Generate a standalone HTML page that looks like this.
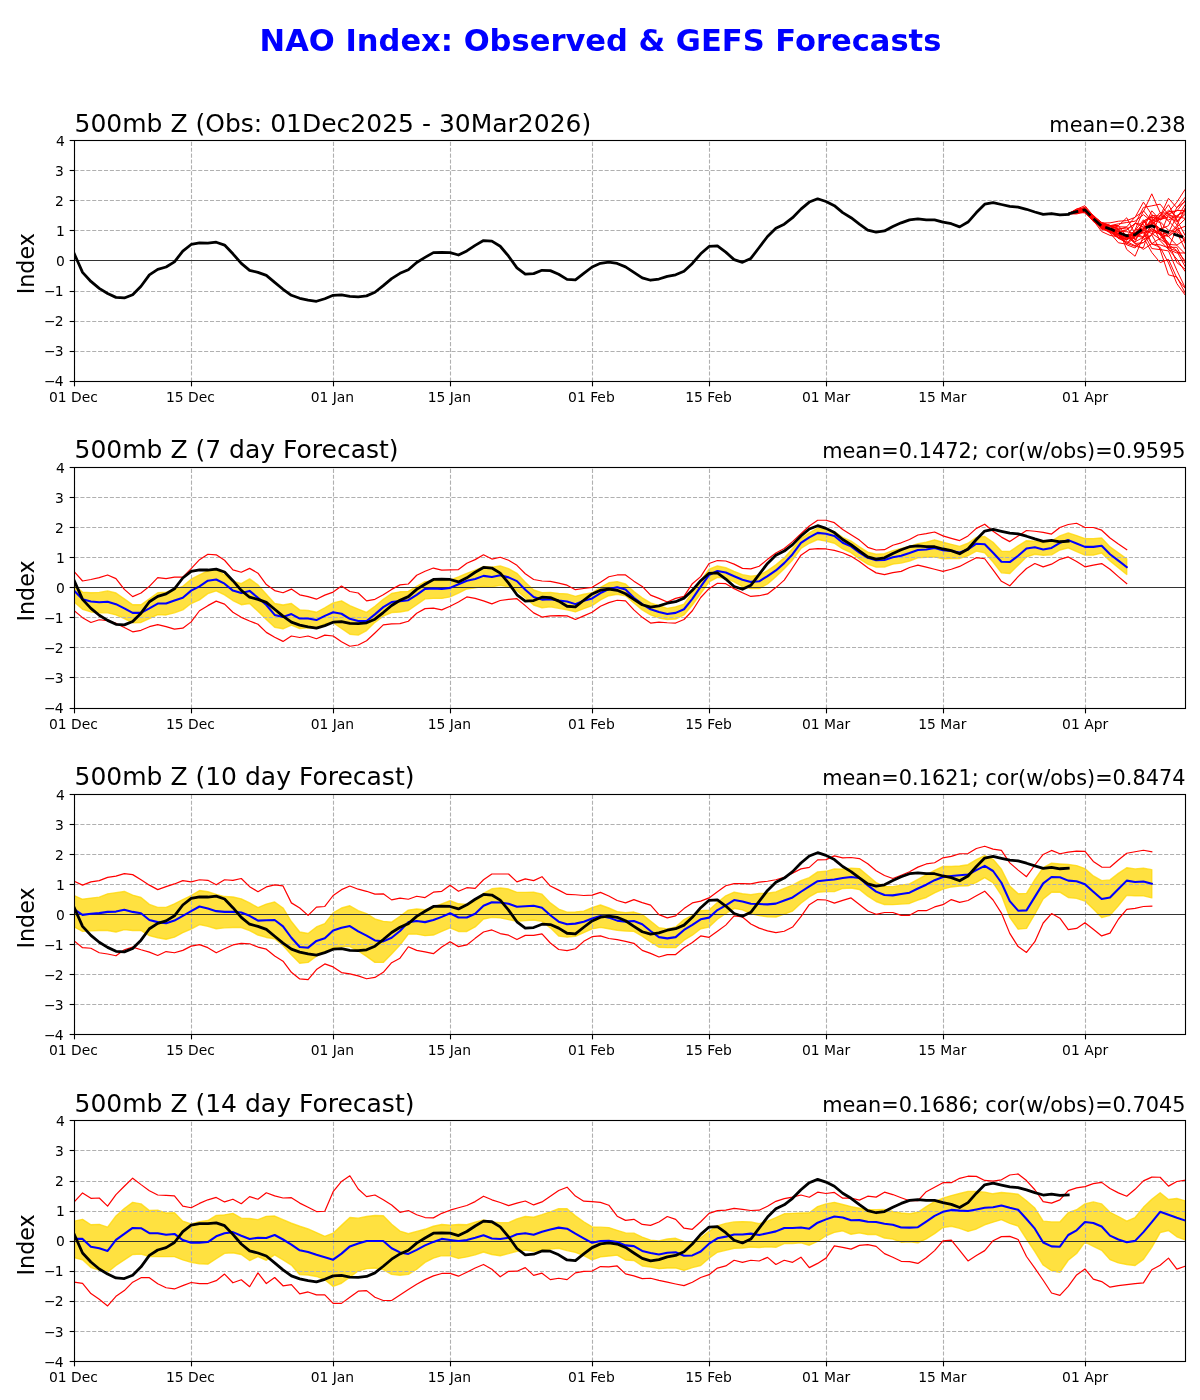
<!DOCTYPE html>
<html><head><meta charset="utf-8"><title>NAO Index: Observed &amp; GEFS Forecasts</title>
<style>html,body{margin:0;padding:0;background:#fff;overflow:hidden}svg{display:block;will-change:transform}</style>
</head><body>
<svg width="1200" height="1400" viewBox="0 0 1200 1400">
<rect x="0" y="0" width="1200" height="1400" fill="#ffffff"/>
<text x="600.5" y="50.8" text-anchor="middle" font-family="DejaVu Sans, Liberation Sans, sans-serif" font-weight="bold" font-size="30.56" fill="#0000ff">NAO Index: Observed &amp; GEFS Forecasts</text>
<g>
<clipPath id="c0"><rect x="74.5" y="140.5" width="1111.0" height="241.0"/></clipPath>
<g clip-path="url(#c0)"><g stroke="#b0b0b0" stroke-width="1.11" stroke-dasharray="4.11 1.78" fill="none"><line x1="74.5" y1="381.5" x2="74.5" y2="140.5"/><line x1="191.5" y1="381.5" x2="191.5" y2="140.5"/><line x1="333.5" y1="381.5" x2="333.5" y2="140.5"/><line x1="450.5" y1="381.5" x2="450.5" y2="140.5"/><line x1="592.5" y1="381.5" x2="592.5" y2="140.5"/><line x1="709.5" y1="381.5" x2="709.5" y2="140.5"/><line x1="826.5" y1="381.5" x2="826.5" y2="140.5"/><line x1="943.5" y1="381.5" x2="943.5" y2="140.5"/><line x1="1085.5" y1="381.5" x2="1085.5" y2="140.5"/><line x1="74.5" y1="381.5" x2="1185.5" y2="381.5"/><line x1="74.5" y1="351.5" x2="1185.5" y2="351.5"/><line x1="74.5" y1="321.5" x2="1185.5" y2="321.5"/><line x1="74.5" y1="291.5" x2="1185.5" y2="291.5"/><line x1="74.5" y1="260.5" x2="1185.5" y2="260.5"/><line x1="74.5" y1="230.5" x2="1185.5" y2="230.5"/><line x1="74.5" y1="200.5" x2="1185.5" y2="200.5"/><line x1="74.5" y1="170.5" x2="1185.5" y2="170.5"/><line x1="74.5" y1="140.5" x2="1185.5" y2="140.5"/></g><line x1="74.5" y1="260.5" x2="1185.5" y2="260.5" stroke="#333" stroke-width="1.1"/><polyline points="1068.25,213.81 1076.61,213.48 1084.96,211.34 1093.31,219.97 1101.67,229.41 1110.02,231.63 1118.37,235.57 1126.73,237.01 1135.08,232.17 1143.43,232.65 1151.79,248.53 1160.14,249.64 1168.49,274.83 1176.85,276.99 1185.2,293.07" fill="none" stroke="#ff0000" stroke-width="1.0" stroke-linejoin="round"/><polyline points="1068.25,213.81 1076.61,211.55 1084.96,208.64 1093.31,218.8 1101.67,225.47 1110.02,229.17 1118.37,233.56 1126.73,235.09 1135.08,233.29 1143.43,222.97 1151.79,216.66 1160.14,234.82 1168.49,247.14 1176.85,247.38 1185.2,263.41" fill="none" stroke="#ff0000" stroke-width="1.0" stroke-linejoin="round"/><polyline points="1068.25,213.81 1076.61,212.75 1084.96,210.44 1093.31,219.97 1101.67,228.72 1110.02,230.85 1118.37,235.42 1126.73,237.31 1135.08,234.01 1143.43,230.73 1151.79,243.93 1160.14,247.26 1168.49,262.92 1176.85,283.61 1185.2,295.09" fill="none" stroke="#ff0000" stroke-width="1.0" stroke-linejoin="round"/><polyline points="1068.25,213.81 1076.61,211.67 1084.96,209.24 1093.31,218.71 1101.67,226.1 1110.02,229.11 1118.37,233.95 1126.73,239.45 1135.08,229.74 1143.43,229.41 1151.79,223.76 1160.14,240.65 1168.49,249.34 1176.85,259.05 1185.2,271.61" fill="none" stroke="#ff0000" stroke-width="1.0" stroke-linejoin="round"/><polyline points="1068.25,213.81 1076.61,212.03 1084.96,209.51 1093.31,217.44 1101.67,223.88 1110.02,228.78 1118.37,231.6 1126.73,229.98 1135.08,223.4 1143.43,224.36 1151.79,243.99 1160.14,244.83 1168.49,247.77 1176.85,251.2 1185.2,266.74" fill="none" stroke="#ff0000" stroke-width="1.0" stroke-linejoin="round"/><polyline points="1068.25,213.81 1076.61,212.15 1084.96,210.44 1093.31,219.85 1101.67,227.66 1110.02,230.64 1118.37,233.17 1126.73,235.57 1135.08,235.6 1143.43,237.52 1151.79,228.78 1160.14,234.1 1168.49,242.9 1176.85,262.59 1185.2,269.18" fill="none" stroke="#ff0000" stroke-width="1.0" stroke-linejoin="round"/><polyline points="1068.25,213.81 1076.61,210.53 1084.96,208.22 1093.31,218.2 1101.67,226.37 1110.02,231.54 1118.37,237.94 1126.73,234.73 1135.08,241.76 1143.43,237.22 1151.79,252.43 1160.14,262.59 1168.49,259.38 1176.85,277.95 1185.2,288.45" fill="none" stroke="#ff0000" stroke-width="1.0" stroke-linejoin="round"/><polyline points="1068.25,213.81 1076.61,211.31 1084.96,209.69 1093.31,218.71 1101.67,226.7 1110.02,230.13 1118.37,238.31 1126.73,241.67 1135.08,245.67 1143.43,242.42 1151.79,234.97 1160.14,249.52 1168.49,250.93 1176.85,270.38 1185.2,287.6" fill="none" stroke="#ff0000" stroke-width="1.0" stroke-linejoin="round"/><polyline points="1068.25,213.81 1076.61,212.3 1084.96,210.17 1093.31,219.04 1101.67,227.81 1110.02,230.19 1118.37,234.58 1126.73,237.76 1135.08,238.64 1143.43,230.22 1151.79,233.47 1160.14,239.15 1168.49,244.62 1176.85,250.54 1185.2,260.97" fill="none" stroke="#ff0000" stroke-width="1.0" stroke-linejoin="round"/><polyline points="1068.25,213.81 1076.61,212.54 1084.96,211.01 1093.31,217.8 1101.67,225.26 1110.02,228.66 1118.37,234.55 1126.73,239.93 1135.08,232.5 1143.43,227.45 1151.79,223.64 1160.14,219.16 1168.49,212.27 1176.85,202.17 1185.2,189.22" fill="none" stroke="#ff0000" stroke-width="1.0" stroke-linejoin="round"/><polyline points="1068.25,213.81 1076.61,209.36 1084.96,207.85 1093.31,215.25 1101.67,223.06 1110.02,222.85 1118.37,221.23 1126.73,220.6 1135.08,217.35 1143.43,202.11 1151.79,214.71 1160.14,219.73 1168.49,216.81 1176.85,221.8 1185.2,214.23" fill="none" stroke="#ff0000" stroke-width="1.0" stroke-linejoin="round"/><polyline points="1068.25,213.81 1076.61,211.31 1084.96,209.72 1093.31,219.94 1101.67,227.39 1110.02,230.76 1118.37,231.45 1126.73,231.72 1135.08,233.41 1143.43,237.04 1151.79,224.6 1160.14,228.81 1168.49,236.41 1176.85,227.06 1185.2,218.95" fill="none" stroke="#ff0000" stroke-width="1.0" stroke-linejoin="round"/><polyline points="1068.25,213.81 1076.61,213.96 1084.96,211.94 1093.31,218.53 1101.67,226.73 1110.02,232.17 1118.37,238.22 1126.73,234.64 1135.08,243.48 1143.43,242.66 1151.79,234.28 1160.14,229.35 1168.49,225.68 1176.85,207.46 1185.2,201.54" fill="none" stroke="#ff0000" stroke-width="1.0" stroke-linejoin="round"/><polyline points="1068.25,213.81 1076.61,210.62 1084.96,207.19 1093.31,216.33 1101.67,222.43 1110.02,225.41 1118.37,229.74 1126.73,226.91 1135.08,216.87 1143.43,211.58 1151.79,193.82 1160.14,212.72 1168.49,213.3 1176.85,221.05 1185.2,212.21" fill="none" stroke="#ff0000" stroke-width="1.0" stroke-linejoin="round"/><polyline points="1068.25,213.81 1076.61,212.69 1084.96,211.07 1093.31,218.74 1101.67,223.52 1110.02,225.65 1118.37,223.85 1126.73,222.49 1135.08,221.17 1143.43,214.71 1151.79,221.32 1160.14,212.63 1168.49,220 1176.85,215.64 1185.2,210.65" fill="none" stroke="#ff0000" stroke-width="1.0" stroke-linejoin="round"/><polyline points="1068.25,213.81 1076.61,212.09 1084.96,210.44 1093.31,218.26 1101.67,226.46 1110.02,230.55 1118.37,231.63 1126.73,235.06 1135.08,243.84 1143.43,249.34 1151.79,243.69 1160.14,238.28 1168.49,234.43 1176.85,225.56 1185.2,207.76" fill="none" stroke="#ff0000" stroke-width="1.0" stroke-linejoin="round"/><polyline points="1068.25,213.81 1076.61,211.7 1084.96,212.27 1093.31,221.2 1101.67,225.74 1110.02,228.3 1118.37,238.06 1126.73,239.45 1135.08,236.41 1143.43,232.62 1151.79,230.97 1160.14,231.33 1168.49,244.35 1176.85,245.1 1185.2,239.45" fill="none" stroke="#ff0000" stroke-width="1.0" stroke-linejoin="round"/><polyline points="1068.25,213.81 1076.61,211.91 1084.96,211.37 1093.31,220.84 1101.67,228.3 1110.02,228.54 1118.37,229.56 1126.73,238.91 1135.08,235.78 1143.43,230.58 1151.79,220.18 1160.14,231.99 1168.49,247.89 1176.85,228.45 1185.2,238.91" fill="none" stroke="#ff0000" stroke-width="1.0" stroke-linejoin="round"/><polyline points="1068.25,213.81 1076.61,210.62 1084.96,209.42 1093.31,215.79 1101.67,226.64 1110.02,229.02 1118.37,234.55 1126.73,243.42 1135.08,246.3 1143.43,247.77 1151.79,221.41 1160.14,228.84 1168.49,236.53 1176.85,245.34 1185.2,253.79" fill="none" stroke="#ff0000" stroke-width="1.0" stroke-linejoin="round"/><polyline points="1068.25,213.81 1076.61,211.34 1084.96,210.5 1093.31,217.56 1101.67,226.58 1110.02,228.15 1118.37,238.09 1126.73,242.9 1135.08,235.75 1143.43,221.68 1151.79,228.72 1160.14,234.61 1168.49,232.68 1176.85,216.18 1185.2,210.86" fill="none" stroke="#ff0000" stroke-width="1.0" stroke-linejoin="round"/><polyline points="1068.25,213.81 1076.61,212.75 1084.96,210.44 1093.31,221.53 1101.67,227.36 1110.02,233.01 1118.37,242.75 1126.73,244.23 1135.08,237.07 1143.43,221.62 1151.79,215.4 1160.14,216.18 1168.49,198.3 1176.85,207.79 1185.2,197.18" fill="none" stroke="#ff0000" stroke-width="1.0" stroke-linejoin="round"/><polyline points="1068.25,213.81 1076.61,213.21 1084.96,208.85 1093.31,216.87 1101.67,223.73 1110.02,225.8 1118.37,235.81 1126.73,240.23 1135.08,233.01 1143.43,228.93 1151.79,210.8 1160.14,220.18 1168.49,214.26 1176.85,210.5 1185.2,210.62" fill="none" stroke="#ff0000" stroke-width="1.0" stroke-linejoin="round"/><polyline points="1068.25,213.81 1076.61,212.63 1084.96,210.53 1093.31,219.07 1101.67,225.08 1110.02,226.01 1118.37,228.93 1126.73,249.49 1135.08,256.25 1143.43,236.38 1151.79,216.69 1160.14,221.65 1168.49,230.28 1176.85,232.23 1185.2,249.46" fill="none" stroke="#ff0000" stroke-width="1.0" stroke-linejoin="round"/><polyline points="1068.25,213.81 1076.61,209.18 1084.96,205.69 1093.31,215.82 1101.67,222.64 1110.02,225.59 1118.37,225.47 1126.73,237.04 1135.08,223.4 1143.43,227.03 1151.79,223.79 1160.14,218.17 1168.49,210.2 1176.85,216.63 1185.2,218.38" fill="none" stroke="#ff0000" stroke-width="1.0" stroke-linejoin="round"/><polyline points="1068.25,213.81 1076.61,212.36 1084.96,212.9 1093.31,221.29 1101.67,224.99 1110.02,225.59 1118.37,228.3 1126.73,228.96 1135.08,223.97 1143.43,207.4 1151.79,205.84 1160.14,204.16 1168.49,214.74 1176.85,224.84 1185.2,243.57" fill="none" stroke="#ff0000" stroke-width="1.0" stroke-linejoin="round"/><polyline points="1068.25,213.81 1076.61,209.15 1084.96,207.88 1093.31,215.82 1101.67,224.3 1110.02,225.29 1118.37,232.32 1126.73,244.8 1135.08,247.98 1143.43,239.54 1151.79,234.61 1160.14,214.8 1168.49,220.96 1176.85,229.53 1185.2,226.22" fill="none" stroke="#ff0000" stroke-width="1.0" stroke-linejoin="round"/><polyline points="1068.25,213.81 1076.61,211.19 1084.96,209.12 1093.31,220.48 1101.67,228.57 1110.02,229.5 1118.37,225.71 1126.73,217.77 1135.08,233.83 1143.43,228.93 1151.79,219.43 1160.14,222.67 1168.49,249.58 1176.85,252.97 1185.2,252.94" fill="none" stroke="#ff0000" stroke-width="1.0" stroke-linejoin="round"/><polyline points="1068.25,213.81 1076.61,212.6 1084.96,209.54 1093.31,217.29 1101.67,226.19 1110.02,228.72 1118.37,231.09 1126.73,237.25 1135.08,242.6 1143.43,220.99 1151.79,216.99 1160.14,219.46 1168.49,211.76 1176.85,210.95 1185.2,200.52" fill="none" stroke="#ff0000" stroke-width="1.0" stroke-linejoin="round"/><polyline points="1068.25,213.81 1076.61,211.49 1084.96,210.56 1093.31,219.19 1101.67,225.41 1110.02,226.91 1118.37,226.82 1126.73,227.03 1135.08,240.02 1143.43,228.69 1151.79,221.17 1160.14,216.48 1168.49,204.73 1176.85,220.06 1185.2,235.57" fill="none" stroke="#ff0000" stroke-width="1.0" stroke-linejoin="round"/><polyline points="1068.25,213.81 1076.61,211.16 1084.96,210.65 1093.31,218.77 1101.67,225.74 1110.02,229.65 1118.37,231.24 1126.73,237.22 1135.08,230.67 1143.43,219.79 1151.79,231.36 1160.14,234.16 1168.49,236.53 1176.85,230.34 1185.2,240.92" fill="none" stroke="#ff0000" stroke-width="1.0" stroke-linejoin="round"/><polyline points="1068.25,213.81 1076.61,211.49 1084.96,210.23 1093.31,220.39 1101.67,231.57 1110.02,235.39 1118.37,236.86 1126.73,239.51 1135.08,229.68 1143.43,210.71 1151.79,220.96 1160.14,234.73 1168.49,214.53 1176.85,218.2 1185.2,204.52" fill="none" stroke="#ff0000" stroke-width="1.0" stroke-linejoin="round"/><polyline points="74.2,253.64 82.55,272.42 90.91,281.44 99.26,288.36 107.61,293.47 115.97,297.37 124.32,297.97 132.67,294.67 141.03,286.25 149.38,274.83 157.73,269.42 166.09,267.01 174.44,261.9 182.79,251.08 191.15,244.47 199.5,242.96 207.85,243.11 216.21,242.21 224.56,245.07 232.91,253.79 241.27,263.41 249.62,270.32 257.97,272.42 266.33,275.43 274.68,282.34 283.03,289.26 291.39,295.27 299.74,298.27 308.09,300.08 316.45,301.28 324.8,298.73 333.15,295.27 341.51,294.82 349.86,296.47 358.22,296.77 366.57,295.87 374.92,292.26 383.28,285.65 391.63,278.59 399.98,273.33 408.34,269.72 416.69,262.5 425.04,257.39 433.4,252.58 441.75,252.28 450.1,252.58 458.46,254.99 466.81,250.93 475.16,245.37 483.52,240.56 491.87,241.16 500.22,246.27 508.58,256.19 516.93,267.91 525.28,274.23 533.64,273.63 541.99,270.32 550.34,270.62 558.7,274.23 567.05,279.34 575.4,279.94 583.76,273.33 592.11,267.01 600.46,263.26 608.82,262.2 617.17,263.41 625.52,266.86 633.88,272.42 642.23,277.83 650.58,280.24 658.94,279.04 667.29,276.33 675.64,274.83 684,271.22 692.35,263.41 700.7,253.79 709.06,246.42 717.41,245.97 725.76,252.13 734.12,259.65 742.47,262.35 750.82,258.45 759.18,247.47 767.53,236.5 775.88,228.24 784.24,224.18 792.59,217.71 800.94,209.15 809.3,202.08 817.65,198.78 826,201.48 834.36,205.69 842.71,212.6 851.06,217.71 859.42,224.03 867.77,230.04 876.12,232.14 884.48,230.94 892.83,226.58 901.18,222.82 909.54,219.82 917.89,218.92 926.25,219.82 934.6,219.82 942.95,222.07 951.31,223.73 959.66,226.88 968.01,222.07 976.37,212.6 984.72,204.19 993.07,202.53 1001.43,204.49 1009.78,206.29 1018.13,207.04 1026.49,209.3 1034.84,212 1043.19,214.41 1051.55,213.51 1059.9,214.86 1068.25,214.41" fill="none" stroke="#000" stroke-width="2.78" stroke-linejoin="round" stroke-linecap="square"/><polyline points="1068.25,213.81 1076.61,211.7 1084.96,209.9 1093.31,218.62 1101.67,226.13 1110.02,228.84 1118.37,232.59 1126.73,235.75 1135.08,234.7 1143.43,228.24 1151.79,225.83 1160.14,229.44 1168.49,232.44 1176.85,235.15 1185.2,237.85" fill="none" stroke="#000" stroke-width="2.78" stroke-dasharray="10.3 4.45" stroke-linejoin="round"/></g>
<rect x="74.5" y="140.5" width="1111.0" height="241.0" fill="none" stroke="#000" stroke-width="1.11"/>
<g stroke="#000" stroke-width="1.11"><line x1="74.5" y1="381.5" x2="74.5" y2="386.36"/><line x1="191.5" y1="381.5" x2="191.5" y2="386.36"/><line x1="333.5" y1="381.5" x2="333.5" y2="386.36"/><line x1="450.5" y1="381.5" x2="450.5" y2="386.36"/><line x1="592.5" y1="381.5" x2="592.5" y2="386.36"/><line x1="709.5" y1="381.5" x2="709.5" y2="386.36"/><line x1="826.5" y1="381.5" x2="826.5" y2="386.36"/><line x1="943.5" y1="381.5" x2="943.5" y2="386.36"/><line x1="1085.5" y1="381.5" x2="1085.5" y2="386.36"/><line x1="69.64" y1="381.5" x2="74.5" y2="381.5"/><line x1="69.64" y1="351.5" x2="74.5" y2="351.5"/><line x1="69.64" y1="321.5" x2="74.5" y2="321.5"/><line x1="69.64" y1="291.5" x2="74.5" y2="291.5"/><line x1="69.64" y1="260.5" x2="74.5" y2="260.5"/><line x1="69.64" y1="230.5" x2="74.5" y2="230.5"/><line x1="69.64" y1="200.5" x2="74.5" y2="200.5"/><line x1="69.64" y1="170.5" x2="74.5" y2="170.5"/><line x1="69.64" y1="140.5" x2="74.5" y2="140.5"/></g>
<g font-family="DejaVu Sans, Liberation Sans, sans-serif" font-size="13.89" fill="#000"><text x="73.5" y="401.9" text-anchor="middle">01 Dec</text><text x="190.45" y="401.9" text-anchor="middle">15 Dec</text><text x="332.45" y="401.9" text-anchor="middle">01 Jan</text><text x="449.4" y="401.9" text-anchor="middle">15 Jan</text><text x="591.41" y="401.9" text-anchor="middle">01 Feb</text><text x="708.56" y="401.9" text-anchor="middle">15 Feb</text><text x="826" y="401.9" text-anchor="middle">01 Mar</text><text x="942.25" y="401.9" text-anchor="middle">15 Mar</text><text x="1085.16" y="401.9" text-anchor="middle">01 Apr</text><text x="63.48" y="385.5" text-anchor="end">−<tspan dx="-1.1">4</tspan></text><text x="63.48" y="355.5" text-anchor="end">−<tspan dx="-1.1">3</tspan></text><text x="63.48" y="325.5" text-anchor="end">−<tspan dx="-1.1">2</tspan></text><text x="63.48" y="295.5" text-anchor="end">−<tspan dx="-1.1">1</tspan></text><text x="64.78" y="265.5" text-anchor="end">0</text><text x="64.78" y="235.5" text-anchor="end">1</text><text x="63.78" y="205.5" text-anchor="end">2</text><text x="63.78" y="175.5" text-anchor="end">3</text><text x="64.78" y="145.5" text-anchor="end">4</text></g>
<text x="74.5" y="131.7" font-family="DejaVu Sans, Liberation Sans, sans-serif" font-size="25" fill="#000">500mb Z (Obs: 01Dec2025 - 30Mar2026)</text>
<text x="1185.5" y="131.7" text-anchor="end" font-family="DejaVu Sans, Liberation Sans, sans-serif" font-size="20.83" fill="#000">mean=0.238</text>
<text transform="translate(34,263.7) rotate(-90)" text-anchor="middle" font-family="DejaVu Sans, Liberation Sans, sans-serif" font-size="22.22" fill="#000">Index</text>
</g>
<g>
<clipPath id="c1"><rect x="74.5" y="467.5" width="1111.0" height="241.0"/></clipPath>
<g clip-path="url(#c1)"><polygon points="74.2,585.2 82.55,592.11 90.91,592.71 99.26,592.41 107.61,590.91 115.97,593.01 124.32,598.87 132.67,604.73 141.03,604.73 149.38,598.87 157.73,592.71 166.09,592.11 174.44,589.4 182.79,586.4 191.15,579.18 199.5,574.97 207.85,570.77 216.21,569.56 224.56,574.97 232.91,581.14 241.27,583.69 249.62,578.88 257.97,584.89 266.33,594.21 274.68,603.53 283.03,605.03 291.39,603.53 299.74,609.84 308.09,610.45 316.45,612.25 324.8,607.74 333.15,602.93 341.51,600.83 349.86,605.64 358.22,609.09 366.57,612.4 374.92,606.24 383.28,599.32 391.63,593.46 399.98,591.81 408.34,591.36 416.69,586.4 425.04,581.59 433.4,580.69 441.75,580.69 450.1,580.09 458.46,576.93 466.81,573.32 475.16,570.17 483.52,566.56 491.87,567.16 500.22,565.96 508.58,568.66 516.93,573.32 525.28,582.19 533.64,590 541.99,592.71 550.34,592.41 558.7,593.46 567.05,593.91 575.4,596.32 583.76,594.21 592.11,592.71 600.46,587.3 608.82,582.79 617.17,581.59 625.52,583.99 633.88,591.51 642.23,597.82 650.58,602.93 658.94,605.64 667.29,608.34 675.64,606.84 684,604.13 692.35,592.11 700.7,580.84 709.06,569.26 717.41,565.96 725.76,567.76 734.12,571.37 742.47,574.67 750.82,576.18 759.18,575.28 767.53,570.62 775.88,564.75 784.24,557.84 792.59,548.52 800.94,538.6 809.3,532.89 817.65,528.08 826,529.58 834.36,531.69 842.71,537.4 851.06,541.16 859.42,546.87 867.77,552.13 876.12,554.23 884.48,553.63 892.83,550.63 901.18,548.52 909.54,546.42 917.89,543.71 926.25,542.21 934.6,539.8 942.95,542.21 951.31,544.31 959.66,546.42 968.01,543.26 976.37,537.4 984.72,536.5 993.07,542.21 1001.43,551.08 1009.78,551.53 1018.13,545.82 1026.49,540.71 1034.84,541.16 1043.19,542.81 1051.55,541.16 1059.9,535.9 1068.25,532.89 1076.61,535.6 1084.96,538.6 1093.31,538.6 1101.67,538 1110.02,546.87 1118.37,552.73 1126.73,558.89 1126.73,574.52 1118.37,567.76 1110.02,561 1101.67,553.03 1093.31,555.14 1084.96,555.14 1076.61,551.53 1068.25,547.92 1059.9,550.02 1051.55,554.83 1043.19,555.29 1034.84,554.23 1026.49,556.94 1018.13,565.21 1009.78,573.47 1001.43,572.87 993.07,562.05 984.72,552.73 976.37,551.08 968.01,555.74 959.66,558.44 951.31,558.44 942.95,558.89 934.6,556.94 926.25,557.24 917.89,557.84 909.54,561 901.18,563.1 892.83,564.15 884.48,567.01 876.12,567.16 867.77,564.15 859.42,558.89 851.06,552.73 842.71,548.97 834.36,543.26 826,541.16 817.65,539.5 809.3,543.26 800.94,548.52 792.59,559.94 784.24,568.81 775.88,576.63 767.53,583.99 759.18,588.65 750.82,588.65 742.47,586.55 734.12,581.89 725.76,578.28 717.41,577.38 709.06,581.89 700.7,593.61 692.35,605.03 684,614.95 675.64,619.01 667.29,619.46 658.94,617.96 650.58,614.95 642.23,609.84 633.88,602.93 625.52,595.72 617.17,594.21 608.82,595.72 600.46,599.92 592.11,605.64 583.76,608.64 575.4,611.95 567.05,609.84 558.7,608.34 550.34,606.84 541.99,607.74 533.64,605.03 525.28,597.82 516.93,590.61 508.58,586.85 500.22,585.2 491.87,586.85 483.52,586.4 475.16,587.9 466.81,588.95 458.46,593.01 450.1,596.92 441.75,598.42 433.4,598.42 425.04,598.87 416.69,604.73 408.34,610.45 399.98,611.95 391.63,612.55 383.28,616.16 374.92,622.32 366.57,630.59 358.22,635.09 349.86,634.19 341.51,628.48 333.15,622.77 324.8,623.67 316.45,628.48 308.09,627.88 299.74,628.48 291.39,625.18 283.03,628.78 274.68,627.28 266.33,619.46 257.97,611.35 249.62,603.53 241.27,604.73 232.91,600.53 224.56,594.81 216.21,590.91 207.85,593.61 199.5,599.92 191.15,603.53 182.79,609.84 174.44,612.85 166.09,614.95 157.73,614.65 149.38,618.56 141.03,622.47 132.67,622.77 124.32,618.56 115.97,614.95 107.61,612.85 99.26,612.85 90.91,611.95 82.55,609.24 74.2,602.03" fill="#ffd700" fill-opacity="0.75" stroke="#ffd700" stroke-opacity="0.75" stroke-width="1.39" stroke-linejoin="round"/><g stroke="#b0b0b0" stroke-width="1.11" stroke-dasharray="4.11 1.78" fill="none"><line x1="74.5" y1="708.5" x2="74.5" y2="467.5"/><line x1="191.5" y1="708.5" x2="191.5" y2="467.5"/><line x1="333.5" y1="708.5" x2="333.5" y2="467.5"/><line x1="450.5" y1="708.5" x2="450.5" y2="467.5"/><line x1="592.5" y1="708.5" x2="592.5" y2="467.5"/><line x1="709.5" y1="708.5" x2="709.5" y2="467.5"/><line x1="826.5" y1="708.5" x2="826.5" y2="467.5"/><line x1="943.5" y1="708.5" x2="943.5" y2="467.5"/><line x1="1085.5" y1="708.5" x2="1085.5" y2="467.5"/><line x1="74.5" y1="708.5" x2="1185.5" y2="708.5"/><line x1="74.5" y1="677.5" x2="1185.5" y2="677.5"/><line x1="74.5" y1="647.5" x2="1185.5" y2="647.5"/><line x1="74.5" y1="617.5" x2="1185.5" y2="617.5"/><line x1="74.5" y1="587.5" x2="1185.5" y2="587.5"/><line x1="74.5" y1="557.5" x2="1185.5" y2="557.5"/><line x1="74.5" y1="527.5" x2="1185.5" y2="527.5"/><line x1="74.5" y1="497.5" x2="1185.5" y2="497.5"/><line x1="74.5" y1="467.5" x2="1185.5" y2="467.5"/></g><line x1="74.5" y1="587.5" x2="1185.5" y2="587.5" stroke="#333" stroke-width="1.1"/><polyline points="74.2,610.75 82.55,617.66 90.91,622.47 99.26,619.76 107.61,620.67 115.97,623.37 124.32,627.58 132.67,631.79 141.03,630.29 149.38,626.68 157.73,624.57 166.09,626.68 174.44,629.08 182.79,628.18 191.15,621.87 199.5,610.75 207.85,605.64 216.21,601.13 224.56,604.13 232.91,612.25 241.27,617.36 249.62,620.97 257.97,624.27 266.33,632.39 274.68,637.2 283.03,641.41 291.39,636 299.74,637.5 308.09,636 316.45,638.7 324.8,635.09 333.15,636 341.51,641.71 349.86,646.22 358.22,645.01 366.57,640.81 374.92,632.99 383.28,624.87 391.63,623.97 399.98,623.67 408.34,621.27 416.69,613.3 425.04,608.64 433.4,608.04 441.75,609.84 450.1,606.24 458.46,602.03 466.81,596.92 475.16,598.42 483.52,600.83 491.87,603.83 500.22,600.53 508.58,599.32 516.93,598.72 525.28,605.64 533.64,612.85 541.99,617.06 550.34,615.86 558.7,615.56 567.05,615.86 575.4,619.46 583.76,615.86 592.11,612.25 600.46,606.24 608.82,602.63 617.17,600.23 625.52,600.83 633.88,609.84 642.23,617.36 650.58,623.07 658.94,622.17 667.29,622.77 675.64,623.07 684,619.46 692.35,610.75 700.7,597.52 709.06,588.65 717.41,583.24 725.76,583.69 734.12,588.65 742.47,592.71 750.82,596.47 759.18,595.72 767.53,593.91 775.88,587.6 784.24,580.09 792.59,567.76 800.94,555.14 809.3,549.42 817.65,548.67 826,548.97 834.36,550.33 842.71,552.73 851.06,556.34 859.42,561.45 867.77,567.76 876.12,572.87 884.48,574.67 892.83,572.57 901.18,571.37 909.54,567.46 917.89,565.06 926.25,567.16 934.6,569.26 942.95,571.37 951.31,569.26 959.66,566.41 968.01,562.05 976.37,557.69 984.72,558.74 993.07,569.86 1001.43,581.29 1009.78,585.8 1018.13,576.63 1026.49,568.51 1034.84,563.55 1043.19,566.86 1051.55,564.15 1059.9,559.34 1068.25,556.94 1076.61,561.45 1084.96,566.86 1093.31,565.21 1101.67,563.55 1110.02,569.26 1118.37,576.63 1126.73,583.69" fill="none" stroke="#ff0000" stroke-width="1.2" stroke-linejoin="round" stroke-linecap="square"/><polyline points="74.2,571.67 82.55,580.99 90.91,579.48 99.26,577.68 107.61,574.97 115.97,578.58 124.32,589.4 132.67,596.62 141.03,593.01 149.38,586.4 157.73,577.68 166.09,578.58 174.44,577.08 182.79,577.08 191.15,568.66 199.5,559.64 207.85,554.23 216.21,554.83 224.56,560.25 232.91,569.86 241.27,572.27 249.62,568.36 257.97,573.17 266.33,584.59 274.68,590.61 283.03,592.71 291.39,589.1 299.74,594.81 308.09,596.62 316.45,599.17 324.8,595.12 333.15,592.11 341.51,586.1 349.86,591.51 358.22,593.01 366.57,600.83 374.92,599.32 383.28,594.81 391.63,589.4 399.98,584.89 408.34,583.99 416.69,575.28 425.04,571.22 433.4,568.06 441.75,570.17 450.1,569.86 458.46,569.56 466.81,563.25 475.16,559.64 483.52,554.83 491.87,559.04 500.22,557.24 508.58,560.25 516.93,565.36 525.28,573.77 533.64,579.48 541.99,580.99 550.34,581.29 558.7,583.09 567.05,585.2 575.4,589.7 583.76,588.5 592.11,587.3 600.46,582.19 608.82,576.78 617.17,574.97 625.52,574.97 633.88,581.14 642.23,586.4 650.58,595.12 658.94,598.42 667.29,602.03 675.64,598.42 684,596.32 692.35,583.69 700.7,576.63 709.06,563.55 717.41,560.55 725.76,561 734.12,564.15 742.47,568.36 750.82,568.81 759.18,566.26 767.53,559.34 775.88,553.03 784.24,548.52 792.59,541.61 800.94,533.79 809.3,525.98 817.65,520.27 826,520.27 834.36,522.67 842.71,529.58 851.06,534.69 859.42,540.11 867.77,547.32 876.12,550.02 884.48,549.72 892.83,545.22 901.18,542.81 909.54,539.5 917.89,535 926.25,533.64 934.6,531.99 942.95,535.9 951.31,538.3 959.66,540.56 968.01,535.9 976.37,528.38 984.72,524.17 993.07,531.24 1001.43,537.1 1009.78,541.61 1018.13,535.9 1026.49,530.49 1034.84,531.24 1043.19,532.29 1051.55,534.09 1059.9,527.48 1068.25,524.47 1076.61,523.27 1084.96,527.48 1093.31,527.48 1101.67,530.19 1110.02,538 1118.37,544.01 1126.73,549.72" fill="none" stroke="#ff0000" stroke-width="1.2" stroke-linejoin="round" stroke-linecap="square"/><polyline points="74.2,590.61 82.55,599.32 90.91,601.43 99.26,602.33 107.61,601.73 115.97,604.13 124.32,608.34 132.67,612.85 141.03,612.85 149.38,608.34 157.73,603.53 166.09,603.53 174.44,600.53 182.79,597.82 191.15,590.61 199.5,586.4 207.85,580.69 216.21,579.48 224.56,583.69 232.91,590.61 241.27,593.01 249.62,590.91 257.97,597.82 266.33,605.03 274.68,614.95 283.03,617.06 291.39,614.05 299.74,618.56 308.09,618.56 316.45,620.06 324.8,615.86 333.15,612.25 341.51,613.75 349.86,618.86 358.22,620.97 366.57,620.97 374.92,614.35 383.28,607.14 391.63,602.03 399.98,601.13 408.34,600.23 416.69,594.81 425.04,588.95 433.4,588.5 441.75,588.95 450.1,587.9 458.46,584.29 466.81,580.69 475.16,579.03 483.52,575.88 491.87,577.08 500.22,575.28 508.58,577.38 516.93,581.14 525.28,589.7 533.64,596.92 541.99,599.62 550.34,599.32 558.7,600.53 567.05,601.43 575.4,604.13 583.76,600.83 592.11,598.42 600.46,593.01 608.82,588.95 617.17,587.3 625.52,589.4 633.88,597.82 642.23,604.13 650.58,609.24 658.94,611.95 667.29,614.05 675.64,612.85 684,609.24 692.35,598.87 700.7,586.55 709.06,574.97 717.41,570.92 725.76,572.57 734.12,576.18 742.47,579.78 750.82,581.89 759.18,581.29 767.53,576.18 775.88,570.47 784.24,563.1 792.59,554.23 800.94,542.81 809.3,537.4 817.65,532.89 826,533.79 834.36,535.9 842.71,542.81 851.06,546.42 859.42,552.73 867.77,557.84 876.12,560.25 884.48,559.94 892.83,557.24 901.18,555.74 909.54,553.03 917.89,550.02 926.25,549.42 934.6,547.92 942.95,550.33 951.31,551.08 959.66,552.43 968.01,549.42 976.37,543.71 984.72,544.31 993.07,552.73 1001.43,561.75 1009.78,562.05 1018.13,555.74 1026.49,548.52 1034.84,547.32 1043.19,549.42 1051.55,547.92 1059.9,542.81 1068.25,540.11 1076.61,543.41 1084.96,546.87 1093.31,546.87 1101.67,545.82 1110.02,554.23 1118.37,560.55 1126.73,567.16" fill="none" stroke="#0000ff" stroke-width="2.08" stroke-linejoin="round" stroke-linecap="square"/><polyline points="74.2,580.54 82.55,599.32 90.91,608.34 99.26,615.26 107.61,620.37 115.97,624.27 124.32,624.87 132.67,621.57 141.03,613.15 149.38,601.73 157.73,596.32 166.09,593.91 174.44,588.8 182.79,577.98 191.15,571.37 199.5,569.86 207.85,570.01 216.21,569.11 224.56,571.97 232.91,580.69 241.27,590.31 249.62,597.22 257.97,599.32 266.33,602.33 274.68,609.24 283.03,616.16 291.39,622.17 299.74,625.18 308.09,626.98 316.45,628.18 324.8,625.63 333.15,622.17 341.51,621.72 349.86,623.37 358.22,623.67 366.57,622.77 374.92,619.16 383.28,612.55 391.63,605.49 399.98,600.23 408.34,596.62 416.69,589.4 425.04,584.29 433.4,579.48 441.75,579.18 450.1,579.48 458.46,581.89 466.81,577.83 475.16,572.27 483.52,567.46 491.87,568.06 500.22,573.17 508.58,583.09 516.93,594.81 525.28,601.13 533.64,600.53 541.99,597.22 550.34,597.52 558.7,601.13 567.05,606.24 575.4,606.84 583.76,600.23 592.11,593.91 600.46,590.16 608.82,589.1 617.17,590.31 625.52,593.76 633.88,599.32 642.23,604.73 650.58,607.14 658.94,605.94 667.29,603.23 675.64,601.73 684,598.12 692.35,590.31 700.7,580.69 709.06,573.32 717.41,572.87 725.76,579.03 734.12,586.55 742.47,589.25 750.82,585.35 759.18,574.37 767.53,563.4 775.88,555.14 784.24,551.08 792.59,544.61 800.94,536.05 809.3,528.98 817.65,525.68 826,528.38 834.36,532.59 842.71,539.5 851.06,544.61 859.42,550.93 867.77,556.94 876.12,559.04 884.48,557.84 892.83,553.48 901.18,549.72 909.54,546.72 917.89,545.82 926.25,546.72 934.6,546.72 942.95,548.97 951.31,550.63 959.66,553.78 968.01,548.97 976.37,539.5 984.72,531.09 993.07,529.43 1001.43,531.39 1009.78,533.19 1018.13,533.94 1026.49,536.2 1034.84,538.9 1043.19,541.31 1051.55,540.41 1059.9,541.76 1068.25,541.31" fill="none" stroke="#000" stroke-width="2.78" stroke-linejoin="round" stroke-linecap="square"/></g>
<rect x="74.5" y="467.5" width="1111.0" height="241.0" fill="none" stroke="#000" stroke-width="1.11"/>
<g stroke="#000" stroke-width="1.11"><line x1="74.5" y1="708.5" x2="74.5" y2="713.36"/><line x1="191.5" y1="708.5" x2="191.5" y2="713.36"/><line x1="333.5" y1="708.5" x2="333.5" y2="713.36"/><line x1="450.5" y1="708.5" x2="450.5" y2="713.36"/><line x1="592.5" y1="708.5" x2="592.5" y2="713.36"/><line x1="709.5" y1="708.5" x2="709.5" y2="713.36"/><line x1="826.5" y1="708.5" x2="826.5" y2="713.36"/><line x1="943.5" y1="708.5" x2="943.5" y2="713.36"/><line x1="1085.5" y1="708.5" x2="1085.5" y2="713.36"/><line x1="69.64" y1="708.5" x2="74.5" y2="708.5"/><line x1="69.64" y1="677.5" x2="74.5" y2="677.5"/><line x1="69.64" y1="647.5" x2="74.5" y2="647.5"/><line x1="69.64" y1="617.5" x2="74.5" y2="617.5"/><line x1="69.64" y1="587.5" x2="74.5" y2="587.5"/><line x1="69.64" y1="557.5" x2="74.5" y2="557.5"/><line x1="69.64" y1="527.5" x2="74.5" y2="527.5"/><line x1="69.64" y1="497.5" x2="74.5" y2="497.5"/><line x1="69.64" y1="467.5" x2="74.5" y2="467.5"/></g>
<g font-family="DejaVu Sans, Liberation Sans, sans-serif" font-size="13.89" fill="#000"><text x="73.5" y="728.9" text-anchor="middle">01 Dec</text><text x="190.45" y="728.9" text-anchor="middle">15 Dec</text><text x="332.45" y="728.9" text-anchor="middle">01 Jan</text><text x="449.4" y="728.9" text-anchor="middle">15 Jan</text><text x="591.41" y="728.9" text-anchor="middle">01 Feb</text><text x="708.56" y="728.9" text-anchor="middle">15 Feb</text><text x="826" y="728.9" text-anchor="middle">01 Mar</text><text x="942.25" y="728.9" text-anchor="middle">15 Mar</text><text x="1085.16" y="728.9" text-anchor="middle">01 Apr</text><text x="63.48" y="712.5" text-anchor="end">−<tspan dx="-1.1">4</tspan></text><text x="63.48" y="682.5" text-anchor="end">−<tspan dx="-1.1">3</tspan></text><text x="63.48" y="652.5" text-anchor="end">−<tspan dx="-1.1">2</tspan></text><text x="63.48" y="622.5" text-anchor="end">−<tspan dx="-1.1">1</tspan></text><text x="64.78" y="592.5" text-anchor="end">0</text><text x="64.78" y="562.5" text-anchor="end">1</text><text x="63.78" y="532.5" text-anchor="end">2</text><text x="63.78" y="502.5" text-anchor="end">3</text><text x="64.78" y="472.5" text-anchor="end">4</text></g>
<text x="74.5" y="457.7" font-family="DejaVu Sans, Liberation Sans, sans-serif" font-size="25" fill="#000">500mb Z (7 day Forecast)</text>
<text x="1185.5" y="457.7" text-anchor="end" font-family="DejaVu Sans, Liberation Sans, sans-serif" font-size="20.83" fill="#000">mean=0.1472; cor(w/obs)=0.9595</text>
<text transform="translate(34,591) rotate(-90)" text-anchor="middle" font-family="DejaVu Sans, Liberation Sans, sans-serif" font-size="22.22" fill="#000">Index</text>
</g>
<g>
<clipPath id="c2"><rect x="74.5" y="794.5" width="1111.0" height="240.0"/></clipPath>
<g clip-path="url(#c2)"><polygon points="74.2,895.51 82.55,899.27 90.91,898.07 99.26,897.17 107.61,893.86 115.97,892.66 124.32,891.45 132.67,895.06 141.03,897.47 149.38,904.38 157.73,907.39 166.09,907.39 174.44,903.78 182.79,899.57 191.15,895.51 199.5,890.55 207.85,891.75 216.21,894.46 224.56,896.56 232.91,897.01 241.27,898.82 249.62,902.88 257.97,907.54 266.33,904.08 274.68,901.97 283.03,907.99 291.39,921.51 299.74,932.03 308.09,933.54 316.45,926.92 324.8,923.62 333.15,912.8 341.51,907.99 349.86,905.73 358.22,910.69 366.57,913.7 374.92,918.96 383.28,921.36 391.63,922.12 399.98,916.4 408.34,910.09 416.69,909.04 425.04,909.64 433.4,907.09 441.75,903.78 450.1,900.77 458.46,903.78 466.81,904.38 475.16,901.67 483.52,893.41 491.87,888.75 500.22,888 508.58,889.05 516.93,892.36 525.28,892.36 533.64,892.21 541.99,894.16 550.34,902.88 558.7,909.04 567.05,912.2 575.4,912.04 583.76,911.14 592.11,907.54 600.46,904.98 608.82,907.99 617.17,911.59 625.52,912.8 633.88,912.04 642.23,914.6 650.58,921.06 658.94,927.68 667.29,928.88 675.64,926.92 684,919.56 692.35,915.35 700.7,910.69 709.06,910.09 717.41,902.58 725.76,895.81 734.12,892.21 742.47,893.71 750.82,894.76 759.18,893.41 767.53,893.26 775.88,891.9 784.24,888.45 792.59,885.14 800.94,880.63 809.3,877.63 817.65,871.91 826,871.31 834.36,868.91 842.71,869.21 851.06,868.16 859.42,868.61 867.77,875.52 876.12,882.59 884.48,886.34 892.83,886.64 901.18,885.14 909.54,883.94 917.89,879.43 926.25,874.92 934.6,870.26 942.95,866.5 951.31,866.5 959.66,866.05 968.01,864.7 976.37,859.59 984.72,855.68 993.07,859.29 1001.43,869.21 1009.78,885.89 1018.13,893.71 1026.49,893.41 1034.84,879.73 1043.19,867.71 1051.55,863.2 1059.9,863.95 1068.25,864.55 1076.61,865.6 1084.96,868.61 1093.31,875.97 1101.67,880.63 1110.02,879.88 1118.37,873.42 1126.73,867.71 1135.08,868.91 1143.43,868.31 1151.79,869.66 1151.79,897.92 1143.43,895.81 1135.08,895.81 1126.73,895.36 1118.37,905.73 1110.02,915.35 1101.67,917.46 1093.31,908.89 1084.96,901.07 1076.61,898.37 1068.25,897.47 1059.9,892.21 1051.55,892.21 1043.19,898.97 1034.84,914.15 1026.49,928.43 1018.13,929.18 1009.78,917.31 1001.43,895.36 993.07,882.74 984.72,877.63 976.37,882.29 968.01,885.89 959.66,886.04 951.31,886.94 942.95,889.05 934.6,892.96 926.25,897.47 917.89,900.02 909.54,903.48 901.18,904.08 892.83,904.68 884.48,904.53 876.12,901.52 867.77,896.11 859.42,889.5 851.06,888 842.71,888.45 834.36,891.6 826,891.6 817.65,892.21 809.3,896.86 800.94,903.18 792.59,910.99 784.24,914.15 775.88,917 767.53,916.7 759.18,915.65 750.82,913.55 742.47,909.94 734.12,908.29 725.76,913.55 717.41,919.26 709.06,927.07 700.7,928.73 692.35,935.19 684,940.15 675.64,947.67 667.29,947.67 658.94,947.22 650.58,941.95 642.23,936.24 633.88,931.43 625.52,930.98 617.17,930.23 608.82,928.73 600.46,927.38 592.11,928.88 583.76,932.64 575.4,936.24 567.05,937.14 558.7,935.94 550.34,927.83 541.99,921.36 533.64,920.01 525.28,920.61 516.93,921.36 508.58,919.56 500.22,917.91 491.87,917.31 483.52,918.96 475.16,926.92 466.81,931.43 458.46,931.43 450.1,927.83 441.75,931.43 433.4,935.04 425.04,935.64 416.69,934.14 408.34,934.14 399.98,944.96 391.63,953.98 383.28,962.4 374.92,962.4 366.57,956.38 358.22,950.82 349.86,946.61 341.51,946.61 333.15,947.67 324.8,952.48 316.45,956.08 308.09,962.4 299.74,963.3 291.39,954.88 283.03,945.56 274.68,938.8 266.33,937.45 257.97,935.04 249.62,930.53 241.27,927.53 232.91,927.53 224.56,927.83 216.21,928.73 207.85,926.32 199.5,924.52 191.15,929.03 182.79,932.64 174.44,937.14 166.09,939.25 157.73,937.75 149.38,935.64 141.03,930.53 132.67,930.53 124.32,929.63 115.97,932.03 107.61,930.53 99.26,930.53 90.91,930.83 82.55,931.43 74.2,926.92" fill="#ffd700" fill-opacity="0.75" stroke="#ffd700" stroke-opacity="0.75" stroke-width="1.39" stroke-linejoin="round"/><g stroke="#b0b0b0" stroke-width="1.11" stroke-dasharray="4.11 1.78" fill="none"><line x1="74.5" y1="1034.5" x2="74.5" y2="794.5"/><line x1="191.5" y1="1034.5" x2="191.5" y2="794.5"/><line x1="333.5" y1="1034.5" x2="333.5" y2="794.5"/><line x1="450.5" y1="1034.5" x2="450.5" y2="794.5"/><line x1="592.5" y1="1034.5" x2="592.5" y2="794.5"/><line x1="709.5" y1="1034.5" x2="709.5" y2="794.5"/><line x1="826.5" y1="1034.5" x2="826.5" y2="794.5"/><line x1="943.5" y1="1034.5" x2="943.5" y2="794.5"/><line x1="1085.5" y1="1034.5" x2="1085.5" y2="794.5"/><line x1="74.5" y1="1034.5" x2="1185.5" y2="1034.5"/><line x1="74.5" y1="1004.5" x2="1185.5" y2="1004.5"/><line x1="74.5" y1="974.5" x2="1185.5" y2="974.5"/><line x1="74.5" y1="944.5" x2="1185.5" y2="944.5"/><line x1="74.5" y1="914.5" x2="1185.5" y2="914.5"/><line x1="74.5" y1="884.5" x2="1185.5" y2="884.5"/><line x1="74.5" y1="854.5" x2="1185.5" y2="854.5"/><line x1="74.5" y1="824.5" x2="1185.5" y2="824.5"/><line x1="74.5" y1="794.5" x2="1185.5" y2="794.5"/></g><line x1="74.5" y1="914.5" x2="1185.5" y2="914.5" stroke="#333" stroke-width="1.1"/><polyline points="74.2,940.9 82.55,947.67 90.91,948.27 99.26,952.78 107.61,953.98 115.97,955.78 124.32,949.77 132.67,947.06 141.03,949.77 149.38,952.18 157.73,955.48 166.09,951.57 174.44,952.78 182.79,950.37 191.15,946.16 199.5,944.66 207.85,947.67 216.21,952.78 224.56,948.72 232.91,944.96 241.27,943.31 249.62,943.76 257.97,947.06 266.33,949.17 274.68,956.08 283.03,961.19 291.39,972.32 299.74,978.93 308.09,979.53 316.45,969.61 324.8,963.9 333.15,966.9 341.51,972.62 349.86,973.82 358.22,975.92 366.57,978.78 374.92,977.43 383.28,972.32 391.63,962.7 399.98,958.19 408.34,946.76 416.69,950.37 425.04,951.87 433.4,953.68 441.75,947.06 450.1,941.65 458.46,946.61 466.81,944.96 475.16,938.35 483.52,932.03 491.87,929.93 500.22,933.54 508.58,935.19 516.93,939.55 525.28,935.34 533.64,935.34 541.99,933.84 550.34,943.01 558.7,949.47 567.05,950.67 575.4,948.72 583.76,941.35 592.11,936.69 600.46,935.94 608.82,938.5 617.17,939.55 625.52,941.35 633.88,943.31 642.23,950.37 650.58,953.38 658.94,956.98 667.29,954.58 675.64,954.58 684,947.67 692.35,942.56 700.7,935.94 709.06,937.3 717.41,931.28 725.76,925.12 734.12,915.95 742.47,917 750.82,923.92 759.18,928.13 767.53,930.83 775.88,932.64 784.24,931.28 792.59,927.07 800.94,916.7 809.3,904.68 817.65,899.57 826,900.02 834.36,903.18 842.71,900.32 851.06,897.92 859.42,904.53 867.77,910.99 876.12,914.3 884.48,912.5 892.83,912.5 901.18,915.35 909.54,915.35 917.89,910.69 926.25,910.69 934.6,906.93 942.95,904.68 951.31,899.57 959.66,902.43 968.01,900.47 976.37,895.81 984.72,891.15 993.07,900.02 1001.43,913.1 1009.78,933.39 1018.13,946.61 1026.49,952.48 1034.84,941.65 1043.19,923.02 1051.55,913.55 1059.9,918.21 1068.25,929.63 1076.61,928.43 1084.96,922.72 1093.31,929.18 1101.67,935.94 1110.02,933.09 1118.37,919.26 1126.73,909.34 1135.08,908.29 1143.43,906.48 1151.79,906.18" fill="none" stroke="#ff0000" stroke-width="1.2" stroke-linejoin="round" stroke-linecap="square"/><polyline points="74.2,881.23 82.55,885.14 90.91,881.83 99.26,880.63 107.61,877.33 115.97,876.12 124.32,873.57 132.67,874.62 141.03,879.73 149.38,885.14 157.73,889.65 166.09,886.64 174.44,883.94 182.79,880.63 191.15,881.83 199.5,879.73 207.85,880.33 216.21,884.84 224.56,879.73 232.91,880.33 241.27,878.53 249.62,886.64 257.97,891.75 266.33,886.94 274.68,884.84 283.03,885.89 291.39,902.88 299.74,907.99 308.09,915.35 316.45,907.09 324.8,906.48 333.15,895.51 341.51,889.65 349.86,886.04 358.22,889.2 366.57,891.3 374.92,894.16 383.28,893.86 391.63,899.87 399.98,898.07 408.34,899.27 416.69,896.26 425.04,897.62 433.4,892.21 441.75,891.3 450.1,885.29 458.46,891.3 466.81,887.7 475.16,888.45 483.52,879.73 491.87,874.02 500.22,874.02 508.58,874.02 516.93,881.83 525.28,878.83 533.64,880.63 541.99,876.72 550.34,886.04 558.7,890.1 567.05,894.46 575.4,894.76 583.76,895.51 592.11,895.06 600.46,892.36 608.82,895.96 617.17,900.47 625.52,902.88 633.88,899.57 642.23,902.58 650.58,905.13 658.94,914.6 667.29,917.91 675.64,915.8 684,908.59 692.35,902.88 700.7,901.07 709.06,897.92 717.41,891.75 725.76,885.74 734.12,883.64 742.47,883.64 750.82,883.94 759.18,882.14 767.53,881.23 775.88,879.73 784.24,877.33 792.59,873.12 800.94,868.91 809.3,867.41 817.65,859.89 826,859.59 834.36,855.83 842.71,857.94 851.06,857.49 859.42,858.54 867.77,863.8 876.12,870.71 884.48,875.52 892.83,878.53 901.18,875.22 909.54,871.76 917.89,867.11 926.25,863.95 934.6,862.75 942.95,857.79 951.31,856.43 959.66,853.73 968.01,853.58 976.37,848.47 984.72,846.21 993.07,849.07 1001.43,850.42 1009.78,862.9 1018.13,870.11 1026.49,876.72 1034.84,865 1043.19,854.48 1051.55,850.42 1059.9,853.73 1068.25,852.08 1076.61,851.17 1084.96,851.47 1093.31,861.39 1101.67,867.11 1110.02,867.26 1118.37,860.04 1126.73,853.28 1135.08,851.77 1143.43,850.27 1151.79,851.77" fill="none" stroke="#ff0000" stroke-width="1.2" stroke-linejoin="round" stroke-linecap="square"/><polyline points="74.2,909.49 82.55,914.9 90.91,913.7 99.26,913.1 107.61,911.89 115.97,911.59 124.32,909.79 132.67,911.89 141.03,913.25 149.38,920.01 157.73,922.12 166.09,923.17 174.44,920.61 182.79,915.8 191.15,911.14 199.5,906.48 207.85,908.59 216.21,911.14 224.56,911.89 232.91,911.89 241.27,912.5 249.62,915.8 257.97,920.61 266.33,920.31 274.68,920.01 283.03,926.32 291.39,937.75 299.74,947.06 308.09,947.67 316.45,940.9 324.8,938.35 333.15,930.53 341.51,927.83 349.86,926.02 358.22,931.43 366.57,935.64 374.92,940.45 383.28,941.35 391.63,937.75 399.98,930.98 408.34,922.12 416.69,921.06 425.04,922.12 433.4,920.01 441.75,916.85 450.1,913.25 458.46,917.46 466.81,917.46 475.16,913.7 483.52,905.73 491.87,902.28 500.22,902.58 508.58,903.78 516.93,906.78 525.28,906.18 533.64,905.73 541.99,907.84 550.34,915.2 558.7,921.66 567.05,924.22 575.4,923.62 583.76,921.66 592.11,918.51 600.46,916.1 608.82,917.61 617.17,920.61 625.52,921.66 633.88,921.06 642.23,924.22 650.58,930.98 658.94,937.14 667.29,938.35 675.64,937.14 684,929.93 692.35,924.82 700.7,919.26 709.06,917.61 717.41,910.09 725.76,905.28 734.12,900.02 742.47,901.52 750.82,903.78 759.18,904.08 767.53,904.38 775.88,903.63 784.24,900.47 792.59,897.47 800.94,891.75 809.3,886.34 817.65,881.23 826,880.18 834.36,879.58 842.71,878.08 851.06,877.02 859.42,878.08 867.77,885.44 876.12,891.6 884.48,895.06 892.83,895.36 901.18,894.01 909.54,892.66 917.89,888.45 926.25,884.69 934.6,880.18 942.95,877.02 951.31,875.97 959.66,875.22 968.01,874.47 976.37,870.11 984.72,865.9 993.07,871.01 1001.43,882.74 1009.78,901.07 1018.13,910.69 1026.49,910.39 1034.84,896.86 1043.19,883.34 1051.55,877.02 1059.9,877.33 1068.25,880.63 1076.61,881.23 1084.96,884.24 1093.31,891.75 1101.67,898.97 1110.02,897.47 1118.37,889.05 1126.73,880.63 1135.08,881.98 1143.43,881.53 1151.79,883.79" fill="none" stroke="#0000ff" stroke-width="2.08" stroke-linejoin="round" stroke-linecap="square"/><polyline points="74.2,907.54 82.55,926.32 90.91,935.34 99.26,942.26 107.61,947.37 115.97,951.27 124.32,951.87 132.67,948.57 141.03,940.15 149.38,928.73 157.73,923.32 166.09,920.91 174.44,915.8 182.79,904.98 191.15,898.37 199.5,896.86 207.85,897.01 216.21,896.11 224.56,898.97 232.91,907.69 241.27,917.31 249.62,924.22 257.97,926.32 266.33,929.33 274.68,936.24 283.03,943.16 291.39,949.17 299.74,952.18 308.09,953.98 316.45,955.18 324.8,952.63 333.15,949.17 341.51,948.72 349.86,950.37 358.22,950.67 366.57,949.77 374.92,946.16 383.28,939.55 391.63,932.49 399.98,927.23 408.34,923.62 416.69,916.4 425.04,911.29 433.4,906.48 441.75,906.18 450.1,906.48 458.46,908.89 466.81,904.83 475.16,899.27 483.52,894.46 491.87,895.06 500.22,900.17 508.58,910.09 516.93,921.81 525.28,928.13 533.64,927.53 541.99,924.22 550.34,924.52 558.7,928.13 567.05,933.24 575.4,933.84 583.76,927.23 592.11,920.91 600.46,917.16 608.82,916.1 617.17,917.31 625.52,920.76 633.88,926.32 642.23,931.73 650.58,934.14 658.94,932.94 667.29,930.23 675.64,928.73 684,925.12 692.35,917.31 700.7,907.69 709.06,900.32 717.41,899.87 725.76,906.03 734.12,913.55 742.47,916.25 750.82,912.35 759.18,901.37 767.53,890.4 775.88,882.14 784.24,878.08 792.59,871.61 800.94,863.05 809.3,855.98 817.65,852.68 826,855.38 834.36,859.59 842.71,866.5 851.06,871.61 859.42,877.93 867.77,883.94 876.12,886.04 884.48,884.84 892.83,880.48 901.18,876.72 909.54,873.72 917.89,872.82 926.25,873.72 934.6,873.72 942.95,875.97 951.31,877.63 959.66,880.78 968.01,875.97 976.37,866.5 984.72,858.09 993.07,856.43 1001.43,858.39 1009.78,860.19 1018.13,860.94 1026.49,863.2 1034.84,865.9 1043.19,868.31 1051.55,867.41 1059.9,868.76 1068.25,868.31" fill="none" stroke="#000" stroke-width="2.78" stroke-linejoin="round" stroke-linecap="square"/></g>
<rect x="74.5" y="794.5" width="1111.0" height="240.0" fill="none" stroke="#000" stroke-width="1.11"/>
<g stroke="#000" stroke-width="1.11"><line x1="74.5" y1="1034.5" x2="74.5" y2="1039.36"/><line x1="191.5" y1="1034.5" x2="191.5" y2="1039.36"/><line x1="333.5" y1="1034.5" x2="333.5" y2="1039.36"/><line x1="450.5" y1="1034.5" x2="450.5" y2="1039.36"/><line x1="592.5" y1="1034.5" x2="592.5" y2="1039.36"/><line x1="709.5" y1="1034.5" x2="709.5" y2="1039.36"/><line x1="826.5" y1="1034.5" x2="826.5" y2="1039.36"/><line x1="943.5" y1="1034.5" x2="943.5" y2="1039.36"/><line x1="1085.5" y1="1034.5" x2="1085.5" y2="1039.36"/><line x1="69.64" y1="1034.5" x2="74.5" y2="1034.5"/><line x1="69.64" y1="1004.5" x2="74.5" y2="1004.5"/><line x1="69.64" y1="974.5" x2="74.5" y2="974.5"/><line x1="69.64" y1="944.5" x2="74.5" y2="944.5"/><line x1="69.64" y1="914.5" x2="74.5" y2="914.5"/><line x1="69.64" y1="884.5" x2="74.5" y2="884.5"/><line x1="69.64" y1="854.5" x2="74.5" y2="854.5"/><line x1="69.64" y1="824.5" x2="74.5" y2="824.5"/><line x1="69.64" y1="794.5" x2="74.5" y2="794.5"/></g>
<g font-family="DejaVu Sans, Liberation Sans, sans-serif" font-size="13.89" fill="#000"><text x="73.5" y="1054.9" text-anchor="middle">01 Dec</text><text x="190.45" y="1054.9" text-anchor="middle">15 Dec</text><text x="332.45" y="1054.9" text-anchor="middle">01 Jan</text><text x="449.4" y="1054.9" text-anchor="middle">15 Jan</text><text x="591.41" y="1054.9" text-anchor="middle">01 Feb</text><text x="708.56" y="1054.9" text-anchor="middle">15 Feb</text><text x="826" y="1054.9" text-anchor="middle">01 Mar</text><text x="942.25" y="1054.9" text-anchor="middle">15 Mar</text><text x="1085.16" y="1054.9" text-anchor="middle">01 Apr</text><text x="63.48" y="1039.5" text-anchor="end">−<tspan dx="-1.1">4</tspan></text><text x="63.48" y="1009.5" text-anchor="end">−<tspan dx="-1.1">3</tspan></text><text x="63.48" y="979.5" text-anchor="end">−<tspan dx="-1.1">2</tspan></text><text x="63.48" y="949.5" text-anchor="end">−<tspan dx="-1.1">1</tspan></text><text x="64.78" y="919.5" text-anchor="end">0</text><text x="64.78" y="889.5" text-anchor="end">1</text><text x="63.78" y="859.5" text-anchor="end">2</text><text x="63.78" y="829.5" text-anchor="end">3</text><text x="64.78" y="799.5" text-anchor="end">4</text></g>
<text x="74.5" y="784.7" font-family="DejaVu Sans, Liberation Sans, sans-serif" font-size="25" fill="#000">500mb Z (10 day Forecast)</text>
<text x="1185.5" y="784.7" text-anchor="end" font-family="DejaVu Sans, Liberation Sans, sans-serif" font-size="20.83" fill="#000">mean=0.1621; cor(w/obs)=0.8474</text>
<text transform="translate(34,917.95) rotate(-90)" text-anchor="middle" font-family="DejaVu Sans, Liberation Sans, sans-serif" font-size="22.22" fill="#000">Index</text>
</g>
<g>
<clipPath id="c3"><rect x="74.5" y="1120.5" width="1111.0" height="241.0"/></clipPath>
<g clip-path="url(#c3)"><polygon points="74.2,1221.16 82.55,1219.36 90.91,1224.77 99.26,1224.32 107.61,1227.17 115.97,1215.9 124.32,1208.53 132.67,1202.37 141.03,1203.88 149.38,1210.49 157.73,1210.19 166.09,1213.04 174.44,1212.74 182.79,1221.16 191.15,1224.02 199.5,1221.76 207.85,1220.56 216.21,1215.45 224.56,1214.85 232.91,1213.34 241.27,1218.15 249.62,1218.45 257.97,1219.66 266.33,1216.35 274.68,1216.05 283.03,1219.66 291.39,1223.26 299.74,1226.27 308.09,1228.98 316.45,1232.58 324.8,1236.34 333.15,1233.18 341.51,1225.37 349.86,1217.55 358.22,1218.15 366.57,1216.5 374.92,1215.45 383.28,1215.75 391.63,1224.17 399.98,1231.08 408.34,1233.78 416.69,1231.38 425.04,1229.28 433.4,1226.27 441.75,1224.47 450.1,1225.07 458.46,1224.47 466.81,1224.77 475.16,1222.06 483.52,1219.96 491.87,1222.06 500.22,1222.66 508.58,1222.66 516.93,1218.91 525.28,1216.5 533.64,1217.25 541.99,1214.7 550.34,1211.84 558.7,1208.68 567.05,1208.68 575.4,1215.9 583.76,1221.76 592.11,1226.87 600.46,1227.17 608.82,1227.62 617.17,1230.33 625.52,1232.88 633.88,1233.18 642.23,1237.09 650.58,1240.1 658.94,1241 667.29,1239.05 675.64,1238.29 684,1241.45 692.35,1242.5 700.7,1237.84 709.06,1231.38 717.41,1225.82 725.76,1223.41 734.12,1221.91 742.47,1221.61 750.82,1221.91 759.18,1223.71 767.53,1221.16 775.88,1217.55 784.24,1213.8 792.59,1213.34 800.94,1213.04 809.3,1212.74 817.65,1206.58 826,1203.88 834.36,1202.37 842.71,1204.48 851.06,1206.58 859.42,1208.23 867.77,1209.74 876.12,1209.74 884.48,1209.44 892.83,1211.54 901.18,1213.04 909.54,1213.8 917.89,1212.29 926.25,1206.58 934.6,1201.62 942.95,1198.16 951.31,1195.61 959.66,1193.5 968.01,1191.4 976.37,1191.4 984.72,1192.15 993.07,1193.81 1001.43,1192.45 1009.78,1193.2 1018.13,1194.26 1026.49,1200.72 1034.84,1208.08 1043.19,1221.16 1051.55,1221.91 1059.9,1221.91 1068.25,1212.74 1076.61,1209.74 1084.96,1203.88 1093.31,1201.92 1101.67,1203.88 1110.02,1212.29 1118.37,1216.5 1126.73,1221.16 1135.08,1217.55 1143.43,1207.33 1151.79,1199.22 1160.14,1192.75 1168.49,1199.52 1176.85,1198.46 1185.2,1200.87 1185.2,1239.95 1176.85,1236.79 1168.49,1230.48 1160.14,1232.58 1151.79,1247.31 1143.43,1259.34 1135.08,1265.5 1126.73,1264.45 1118.37,1262.94 1110.02,1259.64 1101.67,1250.32 1093.31,1246.26 1084.96,1242.05 1076.61,1253.47 1068.25,1260.24 1059.9,1272.26 1051.55,1270.76 1043.19,1265.05 1034.84,1251.52 1026.49,1239.05 1018.13,1226.12 1009.78,1223.41 1001.43,1219.66 993.07,1222.21 984.72,1224.77 976.37,1228.98 968.01,1231.38 959.66,1228.37 951.31,1226.27 942.95,1227.47 934.6,1233.63 926.25,1238.9 917.89,1242.8 909.54,1241.75 901.18,1242.2 892.83,1239.05 884.48,1237.99 876.12,1234.54 867.77,1234.54 859.42,1232.88 851.06,1234.24 842.71,1230.78 834.36,1232.43 826,1235.74 817.65,1241.45 809.3,1245.21 800.94,1242.8 792.59,1243.55 784.24,1243.55 775.88,1247.31 767.53,1246.71 759.18,1247.46 750.82,1247.01 742.47,1248.06 734.12,1248.21 725.76,1250.32 717.41,1252.27 709.06,1258.28 700.7,1265.5 692.35,1267.6 684,1270.46 675.64,1267.9 667.29,1268.05 658.94,1268.65 650.58,1267 642.23,1265.95 633.88,1260.54 625.52,1259.94 617.17,1255.13 608.82,1256.03 600.46,1256.93 592.11,1259.79 583.76,1255.58 575.4,1252.42 567.05,1250.62 558.7,1248.21 550.34,1249.12 541.99,1250.17 533.64,1251.37 525.28,1250.17 516.93,1251.22 508.58,1253.62 500.22,1255.73 491.87,1254.53 483.52,1251.97 475.16,1254.83 466.81,1256.93 458.46,1258.43 450.1,1255.73 441.75,1255.58 433.4,1258.13 425.04,1262.34 416.69,1269.26 408.34,1274.37 399.98,1275.27 391.63,1274.37 383.28,1269.56 374.92,1268.05 366.57,1268.65 358.22,1271.06 349.86,1277.07 341.51,1283.23 333.15,1286.39 324.8,1279.63 316.45,1276.47 308.09,1274.97 299.74,1274.67 291.39,1265.05 283.03,1259.79 274.68,1254.83 266.33,1260.24 257.97,1256.63 249.62,1260.54 241.27,1254.53 232.91,1252.72 224.56,1253.32 216.21,1258.73 207.85,1264.15 199.5,1263.69 191.15,1262.34 182.79,1259.94 174.44,1256.63 166.09,1256.63 157.73,1256.63 149.38,1256.48 141.03,1254.08 132.67,1254.53 124.32,1259.94 115.97,1265.5 107.61,1272.26 99.26,1270.16 90.91,1267.6 82.55,1259.79 74.2,1257.68" fill="#ffd700" fill-opacity="0.75" stroke="#ffd700" stroke-opacity="0.75" stroke-width="1.39" stroke-linejoin="round"/><g stroke="#b0b0b0" stroke-width="1.11" stroke-dasharray="4.11 1.78" fill="none"><line x1="74.5" y1="1361.5" x2="74.5" y2="1120.5"/><line x1="191.5" y1="1361.5" x2="191.5" y2="1120.5"/><line x1="333.5" y1="1361.5" x2="333.5" y2="1120.5"/><line x1="450.5" y1="1361.5" x2="450.5" y2="1120.5"/><line x1="592.5" y1="1361.5" x2="592.5" y2="1120.5"/><line x1="709.5" y1="1361.5" x2="709.5" y2="1120.5"/><line x1="826.5" y1="1361.5" x2="826.5" y2="1120.5"/><line x1="943.5" y1="1361.5" x2="943.5" y2="1120.5"/><line x1="1085.5" y1="1361.5" x2="1085.5" y2="1120.5"/><line x1="74.5" y1="1361.5" x2="1185.5" y2="1361.5"/><line x1="74.5" y1="1331.5" x2="1185.5" y2="1331.5"/><line x1="74.5" y1="1301.5" x2="1185.5" y2="1301.5"/><line x1="74.5" y1="1271.5" x2="1185.5" y2="1271.5"/><line x1="74.5" y1="1241.5" x2="1185.5" y2="1241.5"/><line x1="74.5" y1="1211.5" x2="1185.5" y2="1211.5"/><line x1="74.5" y1="1181.5" x2="1185.5" y2="1181.5"/><line x1="74.5" y1="1150.5" x2="1185.5" y2="1150.5"/><line x1="74.5" y1="1120.5" x2="1185.5" y2="1120.5"/></g><line x1="74.5" y1="1241.5" x2="1185.5" y2="1241.5" stroke="#333" stroke-width="1.1"/><polyline points="74.2,1282.18 82.55,1283.38 90.91,1293.6 99.26,1299.32 107.61,1305.93 115.97,1296.31 124.32,1290.6 132.67,1282.18 141.03,1277.67 149.38,1277.67 157.73,1283.68 166.09,1287.74 174.44,1288.95 182.79,1285.64 191.15,1282.48 199.5,1283.53 207.85,1283.53 216.21,1280.68 224.56,1274.07 232.91,1282.78 241.27,1279.78 249.62,1286.69 257.97,1272.86 266.33,1283.53 274.68,1277.52 283.03,1285.79 291.39,1284.59 299.74,1293.9 308.09,1291.95 316.45,1294.81 324.8,1294.81 333.15,1303.37 341.51,1303.37 349.86,1297.21 358.22,1291.2 366.57,1290.6 374.92,1297.21 383.28,1300.52 391.63,1300.52 399.98,1295.11 408.34,1289.55 416.69,1284.29 425.04,1279.63 433.4,1275.87 441.75,1273.46 450.1,1273.31 458.46,1276.17 466.81,1272.26 475.16,1268.05 483.52,1264.45 491.87,1269.26 500.22,1276.77 508.58,1271.36 516.93,1271.21 525.28,1267.6 533.64,1275.42 541.99,1273.16 550.34,1279.63 558.7,1278.27 567.05,1279.63 575.4,1272.86 583.76,1271.36 592.11,1271.06 600.46,1266.55 608.82,1266.85 617.17,1265.95 625.52,1273.92 633.88,1275.87 642.23,1278.57 650.58,1278.27 658.94,1280.38 667.29,1282.18 675.64,1283.99 684,1285.64 692.35,1282.18 700.7,1277.52 709.06,1274.67 717.41,1268.05 725.76,1265.95 734.12,1260.24 742.47,1262.34 750.82,1260.24 759.18,1260.99 767.53,1257.38 775.88,1264.45 784.24,1260.24 792.59,1262.34 800.94,1257.23 809.3,1267.6 817.65,1263.39 826,1258.13 834.36,1245.96 842.71,1247.31 851.06,1249.12 859.42,1245.36 867.77,1244.61 876.12,1246.41 884.48,1253.62 892.83,1257.23 901.18,1261.29 909.54,1261.59 917.89,1263.39 926.25,1257.68 934.6,1250.62 942.95,1240.85 951.31,1240.1 959.66,1250.32 968.01,1260.99 976.37,1255.58 984.72,1250.62 993.07,1240.7 1001.43,1236.64 1009.78,1236.34 1018.13,1239.5 1026.49,1256.48 1034.84,1268.2 1043.19,1280.23 1051.55,1293 1059.9,1295.41 1068.25,1286.39 1076.61,1274.97 1084.96,1268.96 1093.31,1279.18 1101.67,1281.58 1110.02,1287.14 1118.37,1285.64 1126.73,1284.59 1135.08,1283.68 1143.43,1282.93 1151.79,1269.71 1160.14,1265.2 1168.49,1258.13 1176.85,1269.11 1185.2,1266.25" fill="none" stroke="#ff0000" stroke-width="1.2" stroke-linejoin="round" stroke-linecap="square"/><polyline points="74.2,1201.92 82.55,1192.9 90.91,1198.31 99.26,1198.01 107.61,1206.13 115.97,1194.56 124.32,1186.29 132.67,1178.17 141.03,1184.64 149.38,1190.8 157.73,1195.01 166.09,1195.31 174.44,1195.91 182.79,1206.13 191.15,1207.78 199.5,1203.42 207.85,1199.82 216.21,1197.41 224.56,1201.92 232.91,1199.22 241.27,1203.72 249.62,1196.66 257.97,1199.22 266.33,1192.75 274.68,1195.91 283.03,1198.01 291.39,1197.71 299.74,1203.12 308.09,1207.33 316.45,1211.54 324.8,1211.24 333.15,1191.7 341.51,1181.48 349.86,1175.77 358.22,1189 366.57,1196.66 374.92,1195.01 383.28,1199.82 391.63,1204.93 399.98,1212.29 408.34,1210.49 416.69,1214.7 425.04,1217.55 433.4,1217.85 441.75,1213.34 450.1,1210.19 458.46,1207.78 466.81,1205.53 475.16,1201.62 483.52,1196.21 491.87,1199.82 500.22,1202.52 508.58,1205.68 516.93,1203.12 525.28,1201.02 533.64,1204.93 541.99,1201.92 550.34,1196.21 558.7,1190.5 567.05,1187.19 575.4,1196.06 583.76,1201.17 592.11,1201.62 600.46,1202.37 608.82,1205.23 617.17,1216.2 625.52,1220.41 633.88,1219.36 642.23,1224.47 650.58,1225.37 658.94,1222.06 667.29,1216.5 675.64,1219.36 684,1228.22 692.35,1229.28 700.7,1221.76 709.06,1213.34 717.41,1210.64 725.76,1210.19 734.12,1208.38 742.47,1209.44 750.82,1210.49 759.18,1210.19 767.53,1206.28 775.88,1201.32 784.24,1198.61 792.59,1197.11 800.94,1195.01 809.3,1197.26 817.65,1192.15 826,1193.5 834.36,1192.45 842.71,1198.16 851.06,1198.01 859.42,1200.12 867.77,1196.21 876.12,1197.11 884.48,1192.15 892.83,1194.56 901.18,1197.71 909.54,1200.72 917.89,1200.72 926.25,1191.7 934.6,1187.19 942.95,1182.68 951.31,1182.68 959.66,1178.32 968.01,1176.22 976.37,1176.37 984.72,1180.43 993.07,1181.18 1001.43,1179.83 1009.78,1175.02 1018.13,1173.97 1026.49,1180.58 1034.84,1189.75 1043.19,1201.62 1051.55,1203.12 1059.9,1199.82 1068.25,1190.65 1076.61,1187.94 1084.96,1186.59 1093.31,1183.58 1101.67,1182.38 1110.02,1188.54 1118.37,1192.9 1126.73,1196.21 1135.08,1189.3 1143.43,1180.88 1151.79,1177.12 1160.14,1177.27 1168.49,1186.14 1176.85,1181.48 1185.2,1180.28" fill="none" stroke="#ff0000" stroke-width="1.2" stroke-linejoin="round" stroke-linecap="square"/><polyline points="74.2,1238.9 82.55,1238.9 90.91,1246.71 99.26,1248.21 107.61,1250.92 115.97,1239.95 124.32,1233.94 132.67,1227.92 141.03,1228.22 149.38,1233.18 157.73,1233.18 166.09,1234.69 174.44,1233.94 182.79,1240.1 191.15,1242.8 199.5,1242.8 207.85,1242.05 216.21,1236.34 224.56,1233.18 232.91,1232.13 241.27,1235.74 249.62,1239.05 257.97,1237.69 266.33,1237.99 274.68,1234.99 283.03,1239.5 291.39,1244.61 299.74,1250.32 308.09,1251.97 316.45,1254.83 324.8,1257.23 333.15,1259.64 341.51,1253.62 349.86,1246.41 358.22,1243.55 366.57,1241 374.92,1241 383.28,1241 391.63,1248.21 399.98,1252.42 408.34,1253.93 416.69,1249.87 425.04,1245.36 433.4,1241.9 441.75,1238.9 450.1,1239.95 458.46,1241 466.81,1240.1 475.16,1237.84 483.52,1235.29 491.87,1238.44 500.22,1239.05 508.58,1237.84 516.93,1234.24 525.28,1233.18 533.64,1234.69 541.99,1231.83 550.34,1229.58 558.7,1227.62 567.05,1228.67 575.4,1233.63 583.76,1238.29 592.11,1242.8 600.46,1241 608.82,1240.7 617.17,1242.05 625.52,1245.36 633.88,1246.11 642.23,1250.92 650.58,1253.02 658.94,1254.53 667.29,1252.72 675.64,1252.27 684,1255.73 692.35,1255.43 700.7,1251.52 709.06,1243.7 717.41,1238.29 725.76,1236.64 734.12,1234.54 742.47,1234.54 750.82,1233.63 759.18,1234.99 767.53,1233.18 775.88,1231.38 784.24,1227.92 792.59,1227.92 800.94,1227.47 809.3,1228.67 817.65,1222.66 826,1219.36 834.36,1216.5 842.71,1217.55 851.06,1220.26 859.42,1220.11 867.77,1221.76 876.12,1222.06 884.48,1223.71 892.83,1224.77 901.18,1227.47 909.54,1227.62 917.89,1227.17 926.25,1221.61 934.6,1215.9 942.95,1211.84 951.31,1209.89 959.66,1210.64 968.01,1210.94 976.37,1209.44 984.72,1207.78 993.07,1207.33 1001.43,1205.53 1009.78,1207.78 1018.13,1209.74 1026.49,1219.06 1034.84,1228.67 1043.19,1242.5 1051.55,1246.41 1059.9,1246.71 1068.25,1234.99 1076.61,1230.33 1084.96,1222.06 1093.31,1222.96 1101.67,1226.57 1110.02,1235.59 1118.37,1239.5 1126.73,1242.2 1135.08,1240.85 1143.43,1232.13 1151.79,1222.06 1160.14,1211.84 1168.49,1214.85 1176.85,1217.85 1185.2,1220.56" fill="none" stroke="#0000ff" stroke-width="2.08" stroke-linejoin="round" stroke-linecap="square"/><polyline points="74.2,1234.24 82.55,1253.02 90.91,1262.04 99.26,1268.96 107.61,1274.07 115.97,1277.97 124.32,1278.57 132.67,1275.27 141.03,1266.85 149.38,1255.43 157.73,1250.02 166.09,1247.61 174.44,1242.5 182.79,1231.68 191.15,1225.07 199.5,1223.56 207.85,1223.71 216.21,1222.81 224.56,1225.67 232.91,1234.39 241.27,1244.01 249.62,1250.92 257.97,1253.02 266.33,1256.03 274.68,1262.94 283.03,1269.86 291.39,1275.87 299.74,1278.88 308.09,1280.68 316.45,1281.88 324.8,1279.33 333.15,1275.87 341.51,1275.42 349.86,1277.07 358.22,1277.37 366.57,1276.47 374.92,1272.86 383.28,1266.25 391.63,1259.19 399.98,1253.93 408.34,1250.32 416.69,1243.1 425.04,1237.99 433.4,1233.18 441.75,1232.88 450.1,1233.18 458.46,1235.59 466.81,1231.53 475.16,1225.97 483.52,1221.16 491.87,1221.76 500.22,1226.87 508.58,1236.79 516.93,1248.51 525.28,1254.83 533.64,1254.23 541.99,1250.92 550.34,1251.22 558.7,1254.83 567.05,1259.94 575.4,1260.54 583.76,1253.93 592.11,1247.61 600.46,1243.86 608.82,1242.8 617.17,1244.01 625.52,1247.46 633.88,1253.02 642.23,1258.43 650.58,1260.84 658.94,1259.64 667.29,1256.93 675.64,1255.43 684,1251.82 692.35,1244.01 700.7,1234.39 709.06,1227.02 717.41,1226.57 725.76,1232.73 734.12,1240.25 742.47,1242.95 750.82,1239.05 759.18,1228.07 767.53,1217.1 775.88,1208.84 784.24,1204.78 792.59,1198.31 800.94,1189.75 809.3,1182.68 817.65,1179.38 826,1182.08 834.36,1186.29 842.71,1193.2 851.06,1198.31 859.42,1204.63 867.77,1210.64 876.12,1212.74 884.48,1211.54 892.83,1207.18 901.18,1203.42 909.54,1200.42 917.89,1199.52 926.25,1200.42 934.6,1200.42 942.95,1202.67 951.31,1204.33 959.66,1207.48 968.01,1202.67 976.37,1193.2 984.72,1184.79 993.07,1183.13 1001.43,1185.09 1009.78,1186.89 1018.13,1187.64 1026.49,1189.9 1034.84,1192.6 1043.19,1195.01 1051.55,1194.11 1059.9,1195.46 1068.25,1195.01" fill="none" stroke="#000" stroke-width="2.78" stroke-linejoin="round" stroke-linecap="square"/></g>
<rect x="74.5" y="1120.5" width="1111.0" height="241.0" fill="none" stroke="#000" stroke-width="1.11"/>
<g stroke="#000" stroke-width="1.11"><line x1="74.5" y1="1361.5" x2="74.5" y2="1366.36"/><line x1="191.5" y1="1361.5" x2="191.5" y2="1366.36"/><line x1="333.5" y1="1361.5" x2="333.5" y2="1366.36"/><line x1="450.5" y1="1361.5" x2="450.5" y2="1366.36"/><line x1="592.5" y1="1361.5" x2="592.5" y2="1366.36"/><line x1="709.5" y1="1361.5" x2="709.5" y2="1366.36"/><line x1="826.5" y1="1361.5" x2="826.5" y2="1366.36"/><line x1="943.5" y1="1361.5" x2="943.5" y2="1366.36"/><line x1="1085.5" y1="1361.5" x2="1085.5" y2="1366.36"/><line x1="69.64" y1="1361.5" x2="74.5" y2="1361.5"/><line x1="69.64" y1="1331.5" x2="74.5" y2="1331.5"/><line x1="69.64" y1="1301.5" x2="74.5" y2="1301.5"/><line x1="69.64" y1="1271.5" x2="74.5" y2="1271.5"/><line x1="69.64" y1="1241.5" x2="74.5" y2="1241.5"/><line x1="69.64" y1="1211.5" x2="74.5" y2="1211.5"/><line x1="69.64" y1="1181.5" x2="74.5" y2="1181.5"/><line x1="69.64" y1="1150.5" x2="74.5" y2="1150.5"/><line x1="69.64" y1="1120.5" x2="74.5" y2="1120.5"/></g>
<g font-family="DejaVu Sans, Liberation Sans, sans-serif" font-size="13.89" fill="#000"><text x="73.5" y="1381.9" text-anchor="middle">01 Dec</text><text x="190.45" y="1381.9" text-anchor="middle">15 Dec</text><text x="332.45" y="1381.9" text-anchor="middle">01 Jan</text><text x="449.4" y="1381.9" text-anchor="middle">15 Jan</text><text x="591.41" y="1381.9" text-anchor="middle">01 Feb</text><text x="708.56" y="1381.9" text-anchor="middle">15 Feb</text><text x="826" y="1381.9" text-anchor="middle">01 Mar</text><text x="942.25" y="1381.9" text-anchor="middle">15 Mar</text><text x="1085.16" y="1381.9" text-anchor="middle">01 Apr</text><text x="63.48" y="1366.5" text-anchor="end">−<tspan dx="-1.1">4</tspan></text><text x="63.48" y="1336.5" text-anchor="end">−<tspan dx="-1.1">3</tspan></text><text x="63.48" y="1305.5" text-anchor="end">−<tspan dx="-1.1">2</tspan></text><text x="63.48" y="1275.5" text-anchor="end">−<tspan dx="-1.1">1</tspan></text><text x="64.78" y="1245.5" text-anchor="end">0</text><text x="64.78" y="1215.5" text-anchor="end">1</text><text x="63.78" y="1185.5" text-anchor="end">2</text><text x="63.78" y="1155.5" text-anchor="end">3</text><text x="64.78" y="1125.5" text-anchor="end">4</text></g>
<text x="74.5" y="1111.7" font-family="DejaVu Sans, Liberation Sans, sans-serif" font-size="25" fill="#000">500mb Z (14 day Forecast)</text>
<text x="1185.5" y="1111.7" text-anchor="end" font-family="DejaVu Sans, Liberation Sans, sans-serif" font-size="20.83" fill="#000">mean=0.1686; cor(w/obs)=0.7045</text>
<text transform="translate(34,1244.9) rotate(-90)" text-anchor="middle" font-family="DejaVu Sans, Liberation Sans, sans-serif" font-size="22.22" fill="#000">Index</text>
</g>
</svg>
</body></html>
